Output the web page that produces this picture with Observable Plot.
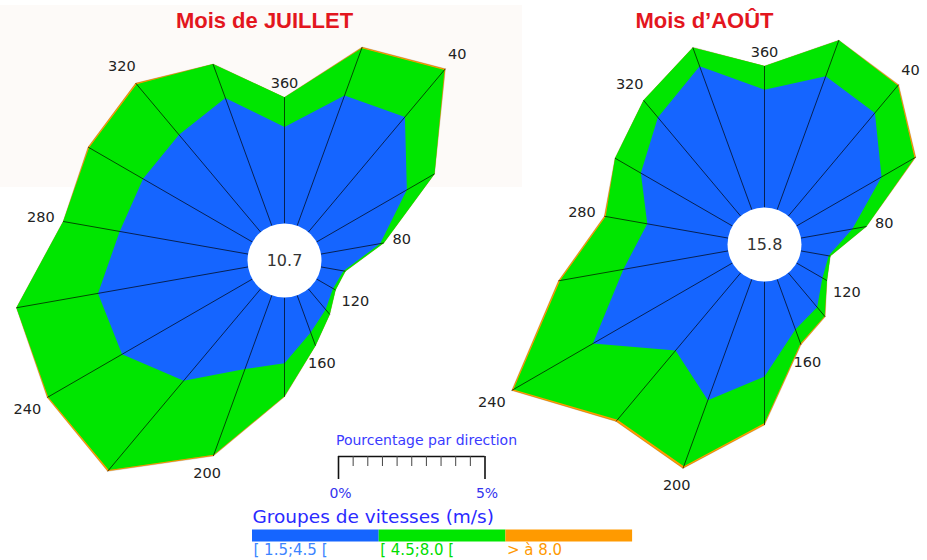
<!DOCTYPE html>
<html><head><meta charset="utf-8">
<script src="https://cdn.jsdelivr.net/npm/d3@7"></script>
<script src="https://cdn.jsdelivr.net/npm/@observablehq/plot@0.6"></script>
<style>
html,body{margin:0;padding:0;background:#fff;}
#wrap{position:relative;width:927px;height:560px;overflow:hidden;}
#tint{position:absolute;left:0;top:5px;width:522px;height:182px;background:#fdfaf8;}
#chart{position:absolute;left:0;top:0;}
</style></head><body>
<div id="wrap"><div id="tint"></div><div id="chart"></div></div>
<script>
// ---- data ----
const directions = [0, 20, 40, 60, 80, 100, 120, 140, 160, 180, 200, 220, 240, 260, 280, 300, 320, 340];
const titles = ["Mois de JUILLET", "Mois d\u2019AOÛT"];
const calm = [10.7, 15.8];
// July: % per direction for each speed class
const julyLow  = [3.29, 4.73, 5.13, 3.56, 2.05, 0.78, 0.65, 0.92, 1.35, 2.24, 2.68, 4.09, 5.14, 5.20, 4.45, 4.31, 4.34, 4.64];
const julyMid  = [1.02, 1.72, 2.10, 1.09, 0.13, 0.07, 0.10, 0.22, 0.48, 1.13, 3.11, 3.98, 2.91, 2.83, 1.96, 2.13, 2.25, 1.23];
const julyHigh = [0.00, 0.04, 0.05, 0.00, 0.00, 0.00, 0.00, 0.00, 0.00, 0.02, 0.05, 0.06, 0.04, 0.00, 0.00, 0.04, 0.05, 0.00];
// August
const augLow  = [4.02, 4.85, 4.60, 3.35, 1.78, 0.96, 1.02, 1.53, 1.82, 3.24, 4.39, 3.46, 5.50, 3.63, 2.80, 3.61, 4.40, 5.21];
const augMid  = [0.81, 1.31, 1.22, 1.30, 0.49, 0.06, 0.18, 0.40, 0.51, 1.59, 2.40, 3.08, 3.13, 2.19, 1.44, 1.02, 0.76, 0.68];
const augHigh = [0.00, 0.00, 0.04, 0.05, 0.00, 0.00, 0.00, 0.03, 0.05, 0.07, 0.08, 0.08, 0.07, 0.06, 0.05, 0.00, 0.00, 0.00];
const dirLabels = [40, 80, 120, 160, 200, 240, 280, 320, 360];
const scaleTicks = [0, 0.5, 1, 1.5, 2, 2.5, 3, 3.5, 4, 4.5, 5];
const scaleEnds = [0, 5];
const speedClasses = ["[ 1.5;4.5 [", "[ 4.5;8.0 [", "> à 8.0"];

// ---- styles / layout ----
const classColors = ["#1565ff", "#00e600", "#ff9a00"];
const classTextColors = ["#3d85ff", "#00dd00", "#ff9900"];
const K = 29.3;            // pixels per percent
const HOLE = 37 / K;       // calm circle radius, in % units
const W = 927, H = 560;
const O = {x: 284, y: 260};
const px = p => (p - O.x) / K;
const py = p => (O.y - p) / K;

const roses = [
  {i: 0, title: titles[0], calm: calm[0], low: julyLow, mid: julyMid, high: julyHigh, cx: px(284), cy: py(260), tx: px(264)},
  {i: 1, title: titles[1], calm: calm[1], low: augLow, mid: augMid, high: augHigh, cx: px(764), cy: py(244), tx: px(704)}
];

function pos(rose, deg, r) {
  const a = deg * Math.PI / 180;
  return {x: rose.cx + r * Math.sin(a), y: rose.cy + r * Math.cos(a)};
}

// polygons
const levels = [
  {k: 2, f: (r, j) => r.low[j] + r.mid[j] + r.high[j]},
  {k: 1, f: (r, j) => r.low[j] + r.mid[j]},
  {k: 0, f: (r, j) => r.low[j]}
];
const polys = [];
for (const lv of levels) for (const r of roses) directions.forEach((d, j) => {
  const p = pos(r, d, HOLE + lv.f(r, j));
  polys.push({...p, z: r.i + "-" + lv.k, k: lv.k});
});
const spokes = [];
for (const r of roses) directions.forEach((d, j) => {
  const a = pos(r, d, HOLE);
  const b = pos(r, d, HOLE + r.low[j] + r.mid[j] + r.high[j]);
  spokes.push({x1: a.x, y1: a.y, x2: b.x, y2: b.y});
});
const labels = [];
for (const r of roses) dirLabels.forEach(L => {
  const deg = L % 360, j = directions.indexOf(deg);
  const a = deg * Math.PI / 180;
  const hw = String(L).length * 4.6;
  const gap = 8 + hw * Math.abs(Math.sin(a)) + 6 * Math.abs(Math.cos(a));
  const p = pos(r, deg, HOLE + r.low[j] + r.mid[j] + r.high[j] + gap / K);
  labels.push({...p, t: String(L)});
});

const L0 = px(338); // legend scale origin
const segW = 126.7 / K;

const plot = Plot.plot({
  width: W, height: H, margin: 0,
  x: {domain: [px(0), px(W)], range: [0, W], axis: null},
  y: {domain: [py(0), py(H)], range: [0, H], axis: null},
  color: {type: "identity"},
  style: {fontFamily: "'DejaVu Sans', Verdana, sans-serif", background: "transparent", overflow: "visible"},
  marks: [
    Plot.line(polys.filter(d => d.k === 2), {x: "x", y: "y", z: "z", curve: "linear-closed", fill: classColors[2], stroke: "#000", strokeOpacity: 0.25, strokeWidth: 0.6}),
    Plot.line(polys.filter(d => d.k === 1), {x: "x", y: "y", z: "z", curve: "linear-closed", fill: classColors[1], stroke: "none"}),
    Plot.line(polys.filter(d => d.k === 0), {x: "x", y: "y", z: "z", curve: "linear-closed", fill: classColors[0], stroke: "none"}),
    Plot.link(spokes, {x1: "x1", y1: "y1", x2: "x2", y2: "y2", stroke: "#000", strokeWidth: 0.8, strokeOpacity: 0.85}),
    Plot.dot(roses, {x: "cx", y: "cy", r: HOLE * K, fill: "white", stroke: "none"}),
    Plot.text(roses, {x: "cx", y: "cy", text: d => d.calm.toFixed(1), fontSize: 16, fill: "#333"}),
    Plot.text(labels, {x: "x", y: "y", text: "t", fontSize: 14.5, fill: "#222"}),
    Plot.text(roses, {x: "tx", y: py(20), text: "title", fontSize: 22, fontWeight: "bold", fill: "#e3161e", fontFamily: "'Liberation Sans', Arial, sans-serif"}),
    // legend: percentage scale
    Plot.text(["Pourcentage par direction"], {x: px(426), y: py(440), text: d => d, fontSize: 14, fill: "#3a3aff"}),
    Plot.ruleY([py(456)], {x1: L0, x2: L0 + 5, stroke: "#111", strokeWidth: 1.5}),
    Plot.ruleX(scaleTicks, {x: v => L0 + v, y1: py(456), y2: v => (v === 0 || v === 5) ? py(479) : py(466), stroke: v => (v === 0 || v === 5) ? "#111" : "#444", strokeWidth: v => (v === 0 || v === 5) ? 1.6 : 1}),
    Plot.text(scaleEnds, {x: v => L0 + v + 2 / K, y: py(493), text: v => v + "%", fontSize: 14, fill: "#3333ee"}),
    // legend: speed classes
    Plot.text(["Groupes de vitesses (m/s)"], {x: px(252), y: py(517), text: d => d, textAnchor: "start", fontSize: 18.5, fill: "#2a2aff"}),
    Plot.rect(speedClasses, {x1: (d, i) => px(252) + i * segW, x2: (d, i) => px(252) + (i + 1) * segW, y1: py(529.5), y2: py(541.5), fill: (d, i) => classColors[i]}),
    Plot.text(speedClasses, {x: (d, i) => px(253) + i * segW, y: py(550), text: d => d, textAnchor: "start", fontSize: 15, fill: (d, i) => classTextColors[i]})
  ]
});
document.getElementById("chart").append(plot);
</script>
</body></html>
